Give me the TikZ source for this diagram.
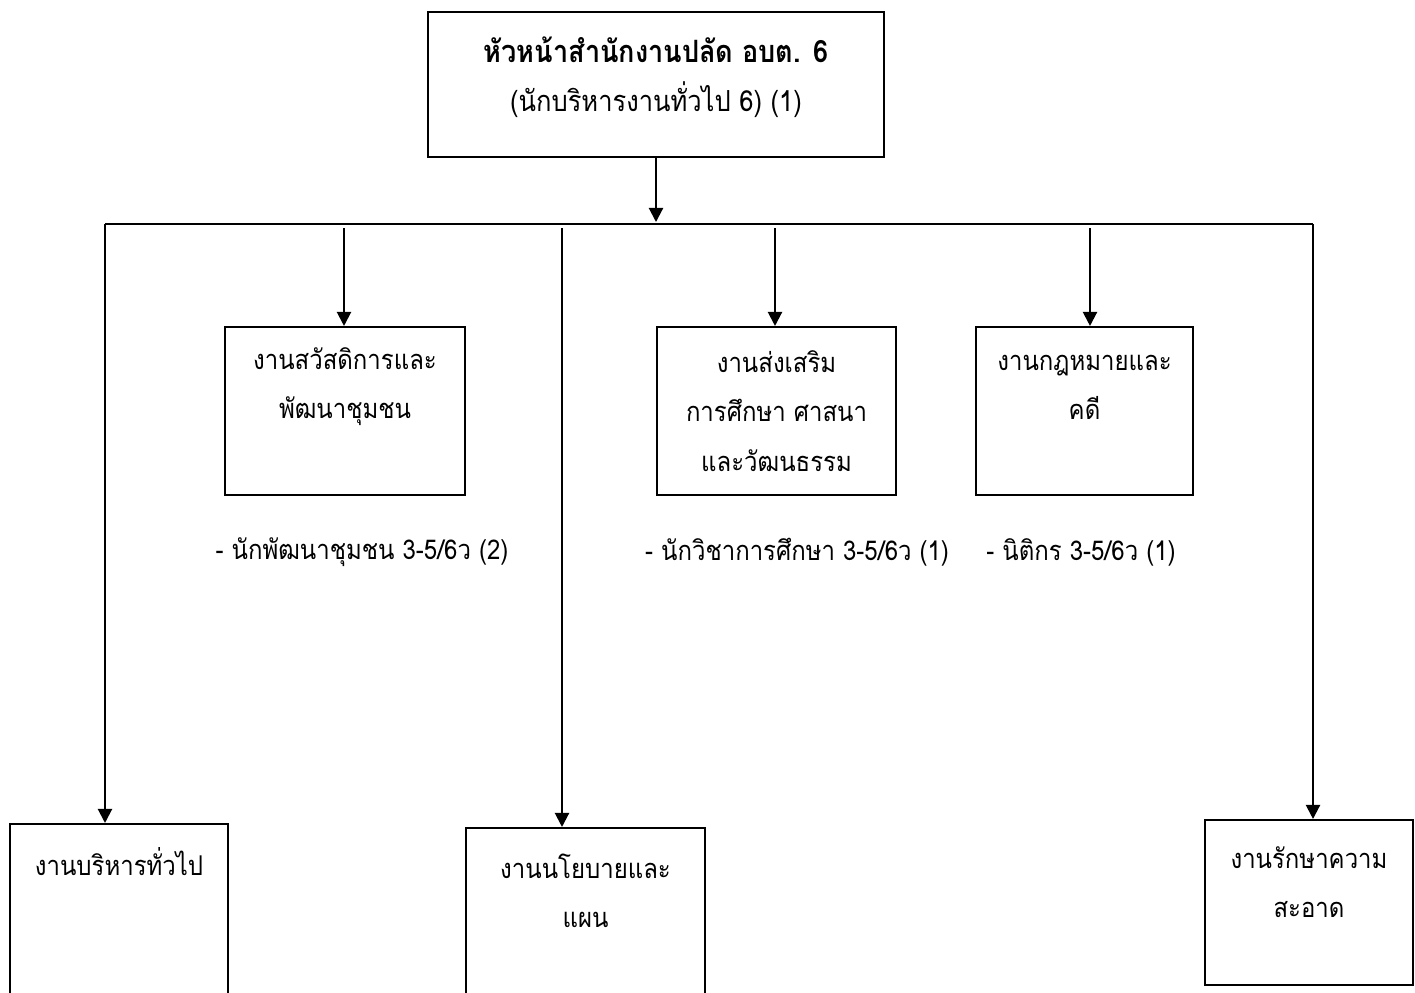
\documentclass[tikz,border=0pt]{standalone}
\usepackage{fontspec}
\newfontfamily\thaifont[Script=Thai, FakeStretch=0.88]{Loma}
\usetikzlibrary{arrows.meta}

\begin{document}
\begin{tikzpicture}
  [x=0.02cm, y=-0.02cm,
   unit/.style={shape=rectangle, draw=black, line width=1.2pt, inner sep=0pt},
   word/.style={align=center, inner sep=0pt, font=\thaifont\fontsize{15.5}{28}\selectfont},
   link/.style={line width=1.2pt},
   flow/.style={->, >={Triangle[length=8pt, width=8pt]}, line width=1.2pt}]
  \clip (0,0) rectangle (1415,992);
  % boxes
  \node (head) [unit, minimum width=9.12cm, minimum height=2.9cm] at (656,84.5) {};
  \node (welfare) [unit, minimum width=4.8cm, minimum height=3.36cm] at (345,411) {};
  \node (edu) [unit, minimum width=4.78cm, minimum height=3.36cm] at (776.5,411) {};
  \node (law) [unit, minimum width=4.34cm, minimum height=3.36cm] at (1084.5,411) {};
  \node (admin) [unit, minimum width=4.36cm, minimum height=3.52cm] at (119,912) {};
  \node (plan) [unit, minimum width=4.78cm, minimum height=3.44cm] at (585.5,914) {};
  \node (clean) [unit, minimum width=4.16cm, minimum height=3.3cm] at (1309,902.5) {};
  % texts
  \node (head-t) [word, font=\thaifont\fontsize{16.5}{28}\selectfont] at (656,77)
    {{\fontsize{17.5}{28}\selectfont\bfseries หัวหน้าสำนักงานปลัด อบต. 6}\\(นักบริหารงานทั่วไป 6) (1)};
  \node (welfare-t) [word] at (345,387) {งานสวัสดิการและ\\พัฒนาชุมชน};
  \node (edu-t) [word] at (776.5,411) {งานส่งเสริม\\การศึกษา ศาสนา\\และวัฒนธรรม};
  \node (law-t) [word] at (1084.5,387) {งานกฎหมายและ\\คดี};
  \node (admin-t) [word] at (119,862) {งานบริหารทั่วไป};
  \node (plan-t) [word] at (585.5,891) {งานนโยบายและ\\แผน};
  \node (clean-t) [word] at (1309,882) {งานรักษาความ\\สะอาด};
  \node (welfare-s) [word] at (362,552) {- นักพัฒนาชุมชน 3-5/6ว (2)};
  \node (edu-s) [word] at (797,552) {- นักวิชาการศึกษา 3-5/6ว (1)};
  \node (law-s) [word] at (1081,552) {- นิติกร 3-5/6ว (1)};
  % bus
  \coordinate (hub) at (656,222);
  \coordinate (b1) at (105,224);
  \coordinate (b2) at (344,228);
  \coordinate (b3) at (562,228);
  \coordinate (b4) at (775,228);
  \coordinate (b5) at (1090,228);
  \coordinate (b6) at (1313,224);
  \draw [flow] (head) -- (hub);
  \draw [link] (b1) -- (b6);
  \draw [flow] (b1) -- (b1 |- admin.north);
  \draw [flow] (b2) -- (b2 |- welfare.north);
  \draw [flow] (b3) -- (b3 |- plan.north);
  \draw [flow] (b4) -- (b4 |- edu.north);
  \draw [flow] (b5) -- (b5 |- law.north);
  \draw [flow] (b6) -- (b6 |- clean.north);
\end{tikzpicture}
\end{document}
